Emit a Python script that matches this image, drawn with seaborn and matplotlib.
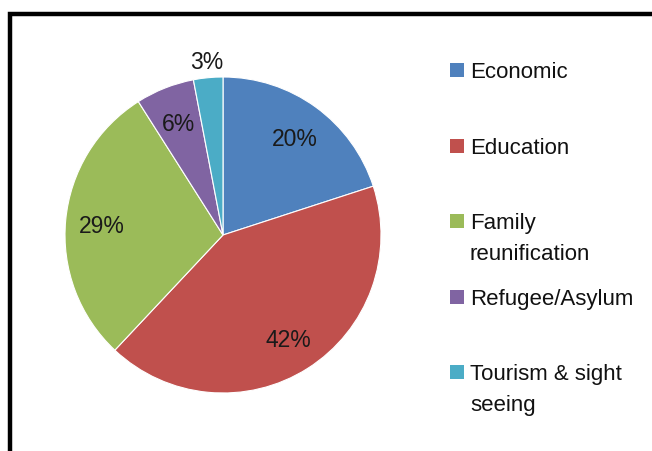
import numpy as np
import matplotlib
matplotlib.use('Agg')
import matplotlib.pyplot as plt
import seaborn as sns
from matplotlib.patches import Rectangle

sns.set_theme(style='white')
plt.rcParams['font.family'] = ['Liberation Sans', 'DejaVu Sans']

categories = ['Economic', 'Education', 'Family\nreunification', 'Refugee/Asylum',
              'Tourism & sight\nseeing']
shares = [20, 42, 29, 6, 3]
colors = ['#4F81BD', '#C0504D', '#9BBB59', '#8064A2', '#4BACC6']

W, H = 652, 451
fig = plt.figure(figsize=(W / 100, H / 100), dpi=100)
# pie centre ~ (223, 235) px, radius ~158 px
r_px = 158
half = 1.25 * r_px
ax = fig.add_axes([(223 - half) / W, (H - 235 - half) / H,
                   2 * half / W, 2 * half / H])

wedges, texts, autotexts = ax.pie(
    shares, colors=colors, startangle=90, counterclock=False,
    autopct='%1.0f%%', pctdistance=0.77,
    wedgeprops=dict(edgecolor='white', linewidth=0.8),
    textprops=dict(fontsize=16.5, color='#1a1a1a'),
)
for t in autotexts:
    t.set_va('center_baseline')
# the smallest slice gets its label outside the pie
w = wedges[-1]
ang = np.deg2rad((w.theta1 + w.theta2) / 2)
autotexts[-1].set_position((1.11 * np.cos(ang), 1.11 * np.sin(ang)))
ax.set_xlim(-1.25, 1.25)
ax.set_ylim(-1.25, 1.25)
ax.set_aspect('equal')

# legend laid out like the spreadsheet one: evenly spaced entries,
# marker next to the first line of each label
first_baseline, pitch, line_gap = 78, 75.5, 30.5
for i, (lab, col) in enumerate(zip(categories, colors)):
    b = first_baseline + i * pitch
    for j, line in enumerate(lab.split('\n')):
        fig.text(470 / W, 1 - (b + j * line_gap) / H, line, fontsize=16,
                 va='baseline', ha='left', color='#111111')
    fig.add_artist(Rectangle((450 / W, 1 - (b - 1) / H), 14 / W, 14 / H,
                             transform=fig.transFigure, facecolor=col,
                             edgecolor='none'))

# outer frame (left and top edges visible)
fig.add_artist(Rectangle((9.5 / W, -0.1), 1.0, (H - 14) / H + 0.1,
                         transform=fig.transFigure, fill=False,
                         edgecolor='black', linewidth=3.2, clip_on=False))

fig.savefig('out.png', dpi=100)
